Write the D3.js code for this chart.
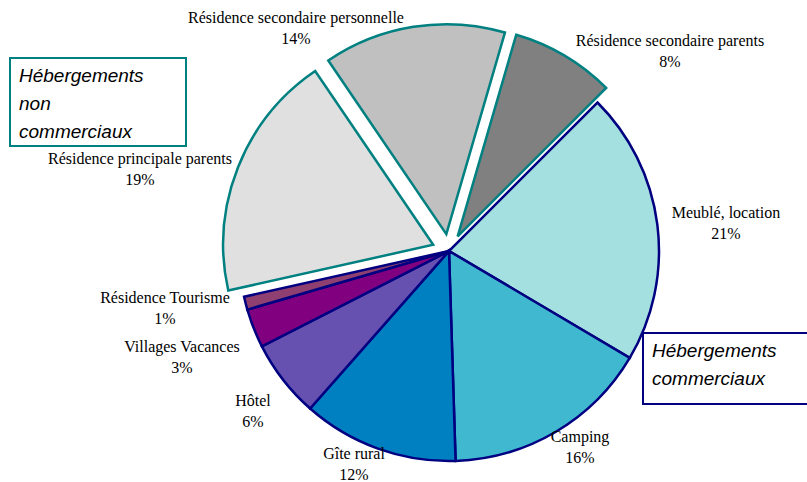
<!DOCTYPE html>
<html>
<head>
<meta charset="utf-8">
<script src="https://cdn.jsdelivr.net/npm/d3@7"></script>
<style>
  body { margin: 0; background: #fff; }
</style>
</head>
<body>
<div id="chart"></div>
<script>
// slices clockwise starting at 45deg from the top
var names = ['Meublé, location', 'Camping', 'Gîte rural', 'Hôtel', 'Villages Vacances',
             'Résidence Tourisme', 'Résidence principale parents',
             'Résidence secondaire personnelle', 'Résidence secondaire parents'];
var values = [21, 16, 12, 6, 3, 1, 19, 14, 8];
var commercial = [true, true, true, true, true, true, false, false, false];
var colours = ['#A4E0E0', '#40B8D0', '#0080C0', '#6650B0', '#800080',
               '#904070', '#E0E0E0', '#C0C0C0', '#808080'];
// label position: centre x, first baseline
var labelPos = [[726, 218], [580, 442], [354, 459], [253, 406], [182, 352],
                [165, 303], [140, 164], [296, 23], [670, 46]];

var W = 807, H = 482;
var cx = 449, cy = 251, R = 210, explode = 17;

var svg = d3.select('#chart').append('svg').attr('width', W).attr('height', H);

var pie = d3.pie().sort(null).value(function(d) { return d; })
  .startAngle(Math.PI / 4).endAngle(Math.PI / 4 + 2 * Math.PI);
var arcs = pie(values);
var arc = d3.arc().innerRadius(0).outerRadius(R);

var g = svg.append('g').attr('transform', 'translate(' + cx + ',' + cy + ')');

g.selectAll('path')
  .data(arcs)
  .enter().append('path')
  .attr('transform', function(d, i) {
    if (commercial[i]) return null;
    var a = (d.startAngle + d.endAngle) / 2;
    return 'translate(' + (Math.sin(a) * explode) + ',' + (-Math.cos(a) * explode) + ')';
  })
  .attr('d', arc)
  .attr('fill', function(d, i) { return colours[i]; })
  .attr('stroke', function(d, i) { return commercial[i] ? '#000080' : '#008080'; })
  .attr('stroke-width', 2.5)
  .attr('stroke-linejoin', 'miter');

var labels = svg.selectAll('text.lab')
  .data(arcs)
  .enter().append('text')
  .attr('class', 'lab')
  .attr('text-anchor', 'middle')
  .attr('font-family', '"Liberation Serif", "Times New Roman", serif')
  .attr('font-size', 16)
  .attr('fill', '#000');
labels.append('tspan')
  .attr('x', function(d, i) { return labelPos[i][0]; })
  .attr('y', function(d, i) { return labelPos[i][1]; })
  .text(function(d, i) { return names[i]; });
labels.append('tspan')
  .attr('x', function(d, i) { return labelPos[i][0]; })
  .attr('y', function(d, i) { return labelPos[i][1] + 21; })
  .text(function(d, i) { return values[i] + '%'; });

// group boxes
function box(x, y, w, h, col, lines, lineY) {
  svg.append('rect').attr('x', x).attr('y', y).attr('width', w).attr('height', h)
    .attr('fill', '#fff').attr('stroke', col).attr('stroke-width', 2);
  var t = svg.append('text')
    .attr('font-family', '"Liberation Sans", Arial, sans-serif')
    .attr('font-style', 'italic').attr('font-size', 19).attr('fill', '#000');
  lines.forEach(function(l, k) {
    t.append('tspan').attr('x', x + 9).attr('y', lineY[k]).text(l);
  });
}
box(10, 58, 176, 88, '#008080', ['Hébergements', 'non', 'commerciaux'], [82, 110, 138]);
box(643, 333, 170, 71, '#000080', ['Hébergements', 'commerciaux'], [357, 385]);
</script>
</body>
</html>
